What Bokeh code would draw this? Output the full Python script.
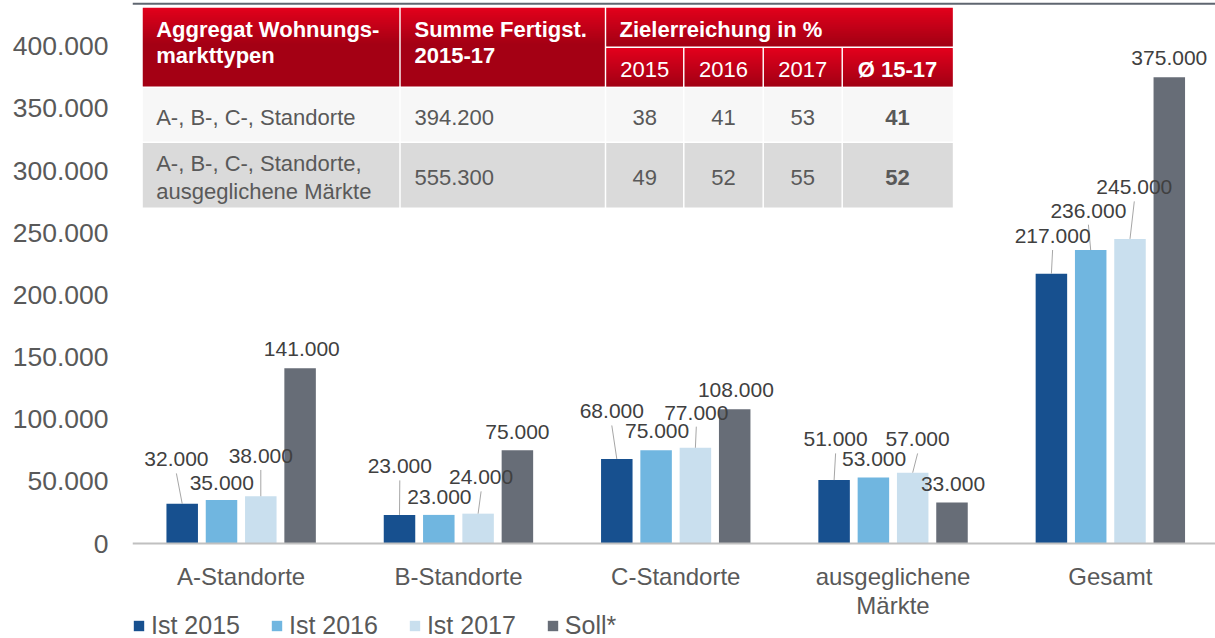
from bokeh.plotting import figure
from bokeh.models import (Range1d, FixedTicker, BoxAnnotation, ColumnDataSource, Legend,
                          LegendItem, Span)
from bokeh.core.properties import value
from bokeh.embed import file_html
from bokeh.resources import INLINE

# ---------------- data ----------------
categories = ["A-Standorte", "B-Standorte", "C-Standorte", "ausgeglichene\nMärkte", "Gesamt"]
series_names = ["Ist 2015", "Ist 2016", "Ist 2017", "Soll*"]
ist_2015 = [32000, 23000, 68000, 51000, 217000]
ist_2016 = [35000, 23000, 75000, 53000, 236000]
ist_2017 = [38000, 24000, 77000, 57000, 245000]
soll = [141000, 75000, 108000, 33000, 375000]
y_ticks = [0, 50000, 100000, 150000, 200000, 250000, 300000, 350000, 400000]

table_head_1 = ["Aggregat Wohnungs-", "Summe Fertigst.", "Zielerreichung in %"]
table_head_2 = ["markttypen", "2015-17"]
table_years = ["2015", "2016", "2017", "Ø 15-17"]
table_rows = [["A-, B-, C-, Standorte"], ["A-, B-, C-, Standorte,", "ausgeglichene Märkte"]]
table_sums = [394200, 555300]
table_pct = [[38, 41, 53], [49, 52, 55]]
table_avg = [41, 52]

# ---------------- style / layout ----------------
FONT = value("Liberation Sans")
colors = ["#17508f", "#70b6e0", "#c9dfee", "#676d77"]
W, H = 1215, 638
BORDER_L = 132
ZERO_Y = 543            # canvas y of the value 0
FRAME_W = W - BORDER_L
PX_PER_CAT = 217.3
PX_PER_UNIT = 1.2433 / 1000.0
BAR_STEP = 39.3 / PX_PER_CAT
BAR_W = 31.5 / PX_PER_CAT

# label offsets (px) relative to bar centre / bar top
label_dx = [[-5.8, 0.3, -5.0, 1.5, 1.2],
            [0.3, 0.6, 1.0, 0.7, -2.3],
            [0.0, 3.0, 0.9, 4.9, 4.3],
            [1.7, 0.0, 1.2, 1.0, 0.0]]
label_dy = [[44.3, 48.5, 47.5, 40.7, 37.7],
            [17.3, 17.5, 18.8, 18.9, 39.4],
            [40.3, 36.3, 35.1, 33.2, 51.5],
            [18.8, 18.0, 19.0, 18.1, 19.0]]


def de(v):
    return f"{v:,}".replace(",", ".")


x_end = FRAME_W / PX_PER_CAT
y_end = ZERO_Y / PX_PER_UNIT
y_start = -(H - ZERO_Y) / PX_PER_UNIT

p = figure(width=W, height=H, x_range=Range1d(0, x_end), y_range=Range1d(y_start, y_end),
           output_backend="svg", toolbar_location=None,
           min_border_left=BORDER_L, min_border_right=0, min_border_top=0,
           min_border_bottom=0)
p.extra_x_ranges = {"px": Range1d(BORDER_L, W)}
p.extra_y_ranges = {"py": Range1d(H, 0)}
p.outline_line_color = None
p.grid.visible = False
p.background_fill_color = "white"
p.border_fill_color = "white"

# ---------------- bars ----------------
all_series = [ist_2015, ist_2016, ist_2017, soll]
lab_x, lab_y, lab_t, lab_dx, lab_dy = [], [], [], [], []
seg_x0, seg_y0, seg_x1, seg_y1 = [], [], [], []
items = []
for s, (vals, col, name) in enumerate(zip(all_series, colors, series_names)):
    off = (s - 1.5) * BAR_STEP
    xs = [i + 0.5 + off for i in range(len(categories))]
    r = p.vbar(x=xs, top=vals, width=BAR_W, bottom=0, fill_color=col, line_color=None)
    items.append(LegendItem(label=name, renderers=[r]))
    for i, v in enumerate(vals):
        dx, dy = label_dx[s][i], label_dy[s][i]
        lab_x.append(xs[i]); lab_y.append(v); lab_t.append(de(v))
        lab_dx.append(dx); lab_dy.append(-dy)
        if dy > 25:
            seg_x0.append(xs[i]); seg_y0.append(v)
            seg_x1.append(xs[i] + dx / PX_PER_CAT)
            seg_y1.append(v + (dy - 14) / PX_PER_UNIT)

p.segment(x0=seg_x0, y0=seg_y0, x1=seg_x1, y1=seg_y1, line_color="#a6a6a6", line_width=1)
lsrc = ColumnDataSource(dict(x=lab_x, y=lab_y, t=lab_t, dx=lab_dx, dy=lab_dy))
p.text(x="x", y="y", text="t", x_offset="dx", y_offset="dy", source=lsrc,
       text_align="center", text_baseline="middle", text_font=FONT,
       text_font_size="21px", text_color="#404040")

# ---------------- axes ----------------
p.yaxis.ticker = FixedTicker(ticks=y_ticks)
p.yaxis.major_label_overrides = {t: de(t) for t in y_ticks}
p.yaxis.axis_line_color = None
p.yaxis.major_tick_line_color = None
p.yaxis.minor_tick_line_color = None
p.yaxis.major_label_standoff = 18
p.yaxis.major_label_text_font = "Liberation Sans"
p.yaxis.major_label_text_font_size = "26.5px"
p.yaxis.major_label_text_color = "#595959"

# category axis: baseline at value 0 and category names below it
p.xaxis.visible = False
p.add_layout(Span(location=0, dimension="width", line_color="#c0c0c0", line_width=2))
xt = [i + 0.5 for i in range(len(categories))]
p.text(x=xt, y=[0] * len(xt), text=categories, y_offset=19, text_align="center",
       text_baseline="top", text_font=FONT, text_font_size="24px",
       text_line_height=1.1, text_color="#595959")

# ---------------- legend ----------------
leg = Legend(items=items, orientation="horizontal", location=(0, -2),
             padding=0, margin=0, spacing=30, label_standoff=6,
             glyph_width=13, glyph_height=13, label_height=13,
             label_text_font="Liberation Sans", label_text_font_size="25px",
             label_text_color="#595959", border_line_color=None,
             background_fill_alpha=0)
p.add_layout(leg)

# ---------------- top rule ----------------
RULE_T, RULE_B = 2.3, 4.3
p.add_layout(BoxAnnotation(top=y_end - RULE_T / PX_PER_UNIT,
                           bottom=y_end - RULE_B / PX_PER_UNIT,
                           fill_color="#5f6670", fill_alpha=1, line_color=None))

# ---------------- table (page pixel coordinates) ----------------
col_x = [142.3, 399.5, 605.0, 683.3, 762.7, 841.7, 952.3]
T_TOP, T_MID, T_HEAD, T_R1, T_BOT = 7.3, 46.7, 86.7, 141.7, 207.7
G = 0.75


def cell(i0, i1, y0, y1):
    l = col_x[i0] + (G if i0 > 0 else 0)
    r = col_x[i1] - (G if i1 < len(col_x) - 1 else 0)
    t = y0 + (G if y0 > T_TOP else 0)
    b = y1 - G
    return l, r, t, b


head_cells = [cell(0, 1, T_TOP, T_HEAD), cell(1, 2, T_TOP, T_HEAD), cell(2, 6, T_TOP, T_MID)]
head_cells += [cell(k, k + 1, T_MID, T_HEAD) for k in range(2, 6)]
c_top = (226, 0, 28)
c_bot = (164, 0, 20)
GRAD = 36.0
gl, gr, gt, gb, gc = [], [], [], [], []
for (l, r, t, b) in head_cells:
    y = t
    while y < b:
        ye = min(y + 1.0, b)
        f = min(1.0, (y - t) / GRAD)
        rgb = tuple(int(round(c_top[k] + (c_bot[k] - c_top[k]) * f)) for k in range(3))
        gl.append(l); gr.append(r); gt.append(y); gb.append(min(ye + 0.3, b))
        gc.append("#%02x%02x%02x" % rgb)
        y = ye
p.quad(left=gl, right=gr, top=gt, bottom=gb, fill_color=gc, line_color=None,
       x_range_name="px", y_range_name="py")

bl, br, bt, bb, bc = [], [], [], [], []
for r_i, (y0, y1, colr) in enumerate([(T_HEAD, T_R1, "#f7f7f7"), (T_R1, T_BOT, "#dadada")]):
    for k in range(6):
        l, r, t, b = cell(k, k + 1, y0, y1)
        bl.append(l); br.append(r); bt.append(t); bb.append(b); bc.append(colr)
p.quad(left=bl, right=br, top=bt, bottom=bb, fill_color=bc, line_color=None,
       x_range_name="px", y_range_name="py")

# header texts
hx = [155.7, 414.0, 619.0]
p.text(x=hx, y=[29.3] * 3, text=table_head_1, x_range_name="px", y_range_name="py",
       text_font=FONT, text_font_size="22px", text_font_style="bold",
       text_color="white", text_baseline="middle", text_align="left")
p.text(x=hx[:2], y=[55.0] * 2, text=table_head_2, x_range_name="px", y_range_name="py",
       text_font=FONT, text_font_size="22px", text_font_style="bold",
       text_color="white", text_baseline="middle", text_align="left")
yc = [(col_x[k] + col_x[k + 1]) / 2 for k in range(2, 6)]
p.text(x=yc[:3], y=[69.3] * 3, text=table_years[:3], x_range_name="px", y_range_name="py",
       text_font=FONT, text_font_size="22px", text_color="white",
       text_baseline="middle", text_align="center")
p.text(x=yc[3:], y=[69.3], text=table_years[3:], x_range_name="px", y_range_name="py",
       text_font=FONT, text_font_size="22px", text_font_style="bold", text_color="white",
       text_baseline="middle", text_align="center")

# body texts
row_y = [116.7, 176.7]
row_line_y = [[116.7], [163.3, 190.7]]
tx, ty, tt = [], [], []
for r_i in range(2):
    for line, yy in zip(table_rows[r_i], row_line_y[r_i]):
        tx.append(155.7); ty.append(yy); tt.append(line)
    tx.append(414.0); ty.append(row_y[r_i]); tt.append(de(table_sums[r_i]))
p.text(x=tx, y=ty, text=tt, x_range_name="px", y_range_name="py",
       text_font=FONT, text_font_size="22px", text_color="#595959",
       text_baseline="middle", text_align="left")
px_, py_, pt_ = [], [], []
for r_i in range(2):
    for k in range(3):
        px_.append(yc[k]); py_.append(row_y[r_i]); pt_.append(str(table_pct[r_i][k]))
p.text(x=px_, y=py_, text=pt_, x_range_name="px", y_range_name="py",
       text_font=FONT, text_font_size="22px", text_color="#595959",
       text_baseline="middle", text_align="center")
p.text(x=[yc[3]] * 2, y=row_y, text=[str(a) for a in table_avg], x_range_name="px",
       y_range_name="py", text_font=FONT, text_font_size="22px", text_font_style="bold",
       text_color="#595959", text_baseline="middle", text_align="center")

open("out.html", "w").write(file_html(p, INLINE))
